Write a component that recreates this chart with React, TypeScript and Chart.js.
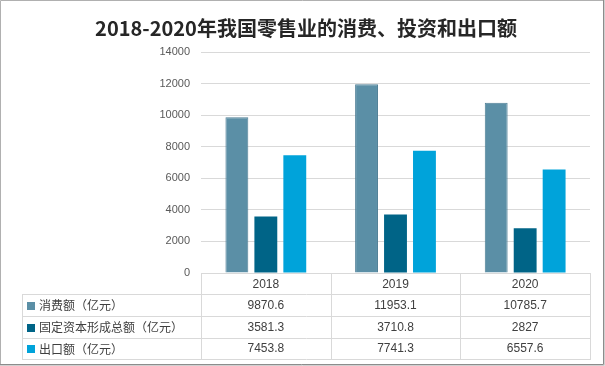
import React, { useEffect, useRef } from "react";
import { Chart, registerables } from "chart.js";

Chart.register(...registerables);

const TITLE = "2018-2020年我国零售业的消费、投资和出口额";
const categories = ["2018", "2019", "2020"];
const seriesNames = ["消费额（亿元）", "固定资本形成总额（亿元）", "出口额（亿元）"];
const consumption = [9870.6, 11953.1, 10785.7];
const investment = [3581.3, 3710.8, 2827];
const exportValues = [7453.8, 7741.3, 6557.6];
const yMax = 14000;
const yStep = 2000;

const seriesColors = ["#5B8FA6", "#006487", "#00A3DA"];
const allSeries = [consumption, investment, exportValues];

const CJK = '"Noto Sans CJK SC", sans-serif';
const NUM = '"Liberation Sans", Arial, sans-serif';

const decorPlugin = {
  id: "decor",
  afterDraw(chart: any) {
    const { ctx, chartArea, width, height } = chart;
    const top = chartArea.bottom;
    const rowsY = [top, top + 21, top + 43, top + 65, top + 86];
    const colW = (chartArea.right - chartArea.left) / categories.length;
    const leftEdge = 22;
    ctx.save();

    // title
    ctx.fillStyle = "#262626";
    ctx.font = 'bold 20px "Liberation Sans Narrow", "Noto Sans CJK SC", sans-serif';
    ctx.textAlign = "center";
    ctx.textBaseline = "middle";
    ctx.fillText(TITLE, 306, 28);

    // table grid
    ctx.strokeStyle = "#D9D9D9";
    ctx.lineWidth = 1;
    ctx.beginPath();
    for (let r = 1; r < rowsY.length; r++) {
      const y = Math.round(rowsY[r]) + 0.5;
      ctx.moveTo(leftEdge, y);
      ctx.lineTo(chartArea.right + 1, y);
    }
    ctx.moveTo(leftEdge + 0.5, rowsY[1]);
    ctx.lineTo(leftEdge + 0.5, rowsY[4] + 1);
    for (let i = 0; i <= categories.length; i++) {
      const cx = Math.round(chartArea.left + i * colW) + 0.5;
      ctx.moveTo(cx, top);
      ctx.lineTo(cx, rowsY[4] + 1);
    }
    ctx.stroke();

    // header
    ctx.fillStyle = "#404040";
    ctx.textAlign = "center";
    ctx.textBaseline = "middle";
    ctx.font = `12px ${NUM}`;
    categories.forEach((c, i) => {
      const cx = chartArea.left + (i + 0.5) * colW;
      ctx.fillText(c, cx, (rowsY[0] + rowsY[1]) / 2 + 1);
    });

    // rows
    allSeries.forEach((vals, r) => {
      const cy = (rowsY[r + 1] + rowsY[r + 2]) / 2 + 0.5;
      ctx.fillStyle = seriesColors[r];
      ctx.fillRect(27, Math.round(cy - 4), 8, 8);
      ctx.fillStyle = "#404040";
      ctx.textAlign = "left";
      ctx.font = `12px ${CJK}`;
      ctx.fillText(seriesNames[r], 39, cy);
      ctx.textAlign = "center";
      ctx.font = `12px ${NUM}`;
      vals.forEach((v, i) => {
        const cx = chartArea.left + (i + 0.5) * colW;
        ctx.fillText(String(v), cx, cy);
      });
    });

    // outer border
    ctx.strokeStyle = "#B0B0B0";
    ctx.beginPath();
    ctx.moveTo(0.5, height);
    ctx.lineTo(0.5, 0.5);
    ctx.lineTo(width, 0.5);
    ctx.stroke();
    ctx.strokeStyle = "#8C8C8C";
    ctx.beginPath();
    ctx.moveTo(width - 1.5, 0);
    ctx.lineTo(width - 1.5, height - 1.5);
    ctx.lineTo(0, height - 1.5);
    ctx.stroke();
    ctx.strokeStyle = "#D0D0D0";
    ctx.beginPath();
    ctx.moveTo(width - 0.5, 0);
    ctx.lineTo(width - 0.5, height - 0.5);
    ctx.lineTo(0, height - 0.5);
    ctx.stroke();
    ctx.restore();
  },
};

export default function App() {
  const canvasRef = useRef<HTMLCanvasElement | null>(null);

  useEffect(() => {
    if (!canvasRef.current) return;
    const chart = new Chart(canvasRef.current, {
      type: "bar",
      data: {
        labels: categories,
        datasets: allSeries.map((vals, i) => ({
          label: seriesNames[i],
          data: vals,
          backgroundColor: seriesColors[i],
          borderColor: i === 0 ? "#4F7F96" : seriesColors[i],
          borderWidth: i === 0 ? 1 : 0,
          categoryPercentage: 0.67,
          barPercentage: 0.79,
        })),
      },
      options: {
        responsive: false,
        animation: false,
        devicePixelRatio: 1,
        layout: { padding: { top: 52, bottom: 93, left: 0, right: 15 } },
        plugins: {
          legend: { display: false },
          title: { display: false },
          tooltip: { enabled: false },
        },
        scales: {
          x: {
            grid: { display: false },
            ticks: { display: false },
            border: { display: true, color: "#D9D9D9" },
            afterFit: (s: any) => {
              s.height = 0;
            },
          },
          y: {
            min: 0,
            max: yMax,
            ticks: {
              stepSize: yStep,
              color: "#595959",
              font: { family: NUM, size: 11 },
              padding: 11,
              callback: (v: any) => String(v),
            },
            grid: { color: "#D9D9D9", drawTicks: false },
            border: { display: false },
            afterFit: (s: any) => {
              s.width = 201;
            },
          },
        },
      },
      plugins: [decorPlugin],
    });
    return () => chart.destroy();
  }, []);

  return (
    <div style={{ position: "absolute", left: 0, top: 0, width: 605, height: 366, background: "#fff" }}>
      <canvas ref={canvasRef} width={605} height={366} style={{ display: "block" }} />
    </div>
  );
}
